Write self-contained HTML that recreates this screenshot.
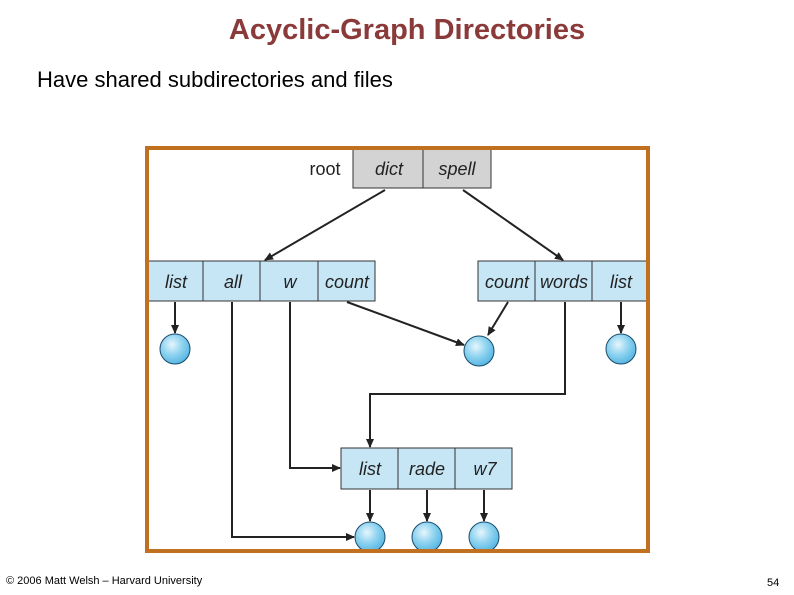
<!DOCTYPE html>
<html><head><style>
body{margin:0;width:794px;height:595px;background:#fff;overflow:hidden;position:relative;font-family:"Liberation Sans",sans-serif}
.t{position:absolute;left:0;width:814px;text-align:center;top:14px;font-size:29px;font-weight:bold;color:#8b3a3a}
.s{position:absolute;left:37px;top:67px;font-size:22px;color:#000}
.f{position:absolute;left:6px;top:575px;font-size:11px}
.n{position:absolute;left:767px;top:577px;font-size:11px}
</style></head><body>
<div class="t">Acyclic-Graph Directories</div>
<div class="s">Have shared subdirectories and files</div>
<svg width="794" height="595" style="position:absolute;left:0;top:0">
<defs>
<marker id="a" markerWidth="10" markerHeight="10" refX="8" refY="5" orient="auto" markerUnits="userSpaceOnUse"><path d="M0,1 L9,5 L0,9 Z" fill="#222"/></marker>
<radialGradient id="g" cx="0.4" cy="0.35" r="0.7"><stop offset="0" stop-color="#e6f6fd"/><stop offset="0.5" stop-color="#8fd3f0"/><stop offset="1" stop-color="#4fb3e0"/></radialGradient>
<clipPath id="c"><rect x="147" y="148" width="500" height="402"/></clipPath>
</defs>
<g clip-path="url(#c)">
<g fill="url(#g)" stroke="#1a4a6a" stroke-width="1">
<circle cx="175" cy="349" r="15"/><circle cx="479" cy="351" r="15"/><circle cx="621" cy="349" r="15"/>
<circle cx="370" cy="537" r="15"/><circle cx="427" cy="537" r="15"/><circle cx="484" cy="537" r="15"/>
</g></g>
<g font-family="Liberation Sans,sans-serif" font-style="italic" font-size="18" text-anchor="middle" fill="#222">
<rect x="353" y="148" width="138" height="40" fill="#d3d3d3" stroke="#333"/><line x1="423" y1="148" x2="423" y2="188" stroke="#333"/>
<text x="389" y="175">dict</text><text x="457" y="175">spell</text>
<text x="325" y="175" font-style="normal">root</text>
<rect x="148" y="261" width="227" height="40" fill="#c6e6f6" stroke="#333"/>
<line x1="203" y1="261" x2="203" y2="301" stroke="#333"/><line x1="260" y1="261" x2="260" y2="301" stroke="#333"/><line x1="318" y1="261" x2="318" y2="301" stroke="#333"/>
<text x="176" y="288">list</text><text x="233" y="288">all</text><text x="290" y="288">w</text><text x="347" y="288">count</text>
<rect x="478" y="261" width="169" height="40" fill="#c6e6f6" stroke="#333"/>
<line x1="535" y1="261" x2="535" y2="301" stroke="#333"/><line x1="592" y1="261" x2="592" y2="301" stroke="#333"/>
<text x="507" y="288">count</text><text x="564" y="288">words</text><text x="621" y="288">list</text>
<rect x="341" y="448" width="171" height="41" fill="#c6e6f6" stroke="#333"/>
<line x1="398" y1="448" x2="398" y2="489" stroke="#333"/><line x1="455" y1="448" x2="455" y2="489" stroke="#333"/>
<text x="370" y="475">list</text><text x="427" y="475">rade</text><text x="485" y="475">w7</text>
</g>
<g stroke="#222" stroke-width="2" fill="none" marker-end="url(#a)">
<line x1="385" y1="190" x2="265" y2="260"/>
<line x1="463" y1="190" x2="563" y2="260"/>
<line x1="175" y1="302" x2="175" y2="333"/>
<polyline points="232,302 232,537 354,537"/>
<polyline points="290,302 290,468 340,468"/>
<line x1="347" y1="302" x2="464" y2="345"/>
<line x1="508" y1="302" x2="488" y2="335"/>
<polyline points="565,302 565,394 370,394 370,447"/>
<line x1="621" y1="302" x2="621" y2="333"/>
<line x1="370" y1="490" x2="370" y2="521"/>
<line x1="427" y1="490" x2="427" y2="521"/>
<line x1="484" y1="490" x2="484" y2="521"/>
</g>
<rect x="147" y="148" width="501" height="403" fill="none" stroke="#c0701e" stroke-width="4"/>
</svg>
<div class="f">© 2006 Matt Welsh – Harvard University</div>
<div class="n">54</div>
</body></html>
